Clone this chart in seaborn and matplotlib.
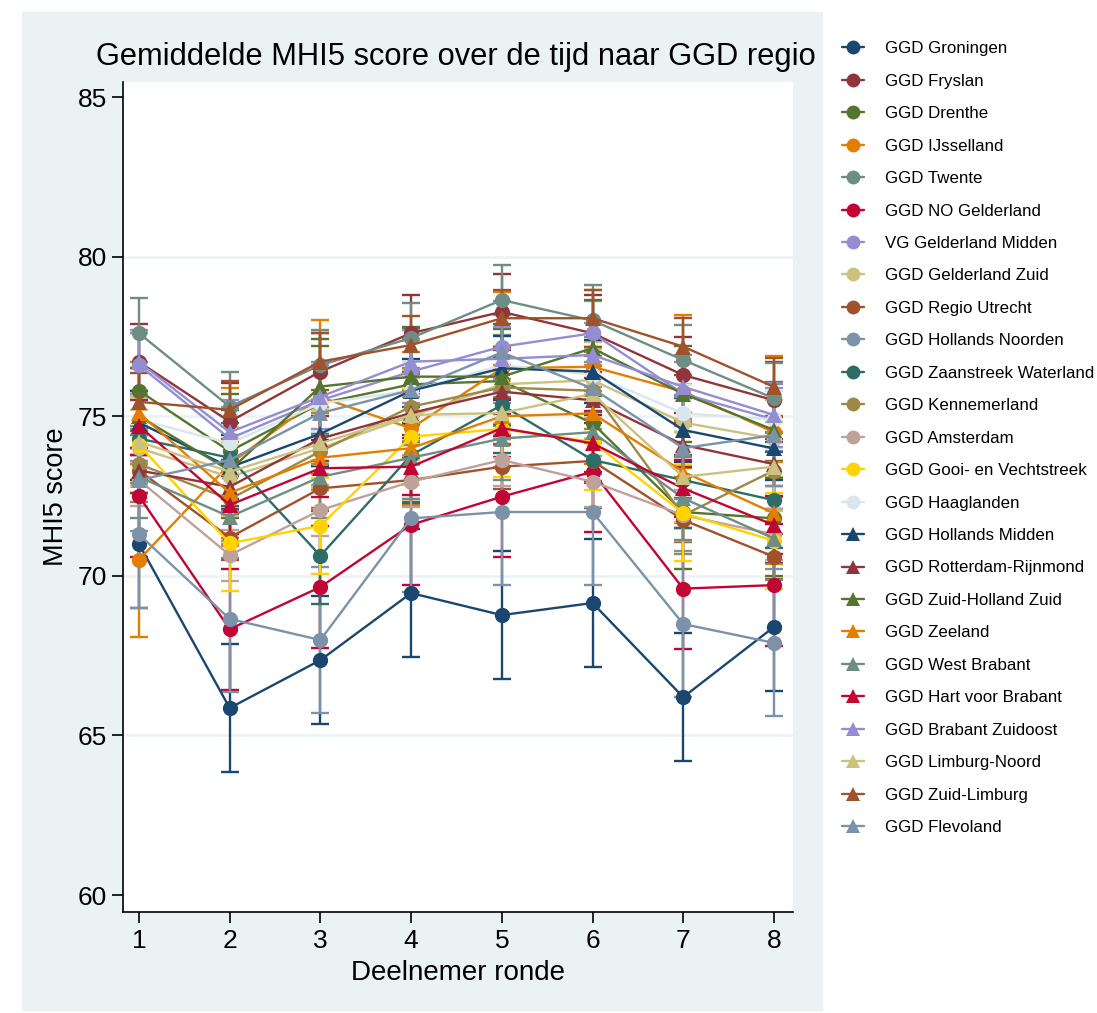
import pandas as pd
import seaborn as sns
import matplotlib.pyplot as plt
from matplotlib.patches import Rectangle

### DATA ###
regios = ["GGD Groningen", "GGD Fryslan", "GGD Drenthe", "GGD IJsselland", "GGD Twente",
          "GGD NO Gelderland", "VG Gelderland Midden", "GGD Gelderland Zuid", "GGD Regio Utrecht",
          "GGD Hollands Noorden", "GGD Zaanstreek Waterland", "GGD Kennemerland", "GGD Amsterdam",
          "GGD Gooi- en Vechtstreek", "GGD Haaglanden", "GGD Hollands Midden",
          "GGD Rotterdam-Rijnmond", "GGD Zuid-Holland Zuid", "GGD Zeeland", "GGD West Brabant",
          "GGD Hart voor Brabant", "GGD Brabant Zuidoost", "GGD Limburg-Noord", "GGD Zuid-Limburg",
          "GGD Flevoland"]

rondes = [1, 2, 3, 4, 5, 6, 7, 8]

# mean MHI5 per region, one list per round (same order as regios)
ronde_1 = [71.0, 76.7, 75.8, 70.5, 77.6, 72.5, 76.6, 74.0, 73.3, 71.3, 74.3, 73.5, 73.0, 74.1, 74.9,
           74.8, 73.3, 75.0, 75.1, 73.1, 74.7, 76.7, 74.2, 75.45, 73.0]
ronde_2 = [65.86, 74.83, 73.9, 73.5, 75.3, 68.33, 74.3, 73.1, 71.2, 68.65, 73.7, 72.4, 70.65, 71.02, 74.15,
           73.4, 72.79, 73.3, 72.6, 71.85, 72.22, 74.5, 73.26, 75.2, 73.63]
ronde_3 = [67.36, 76.4, 75.4, 75.6, 76.6, 69.65, 75.5, 74.0, 72.74, 67.99, 70.63, 73.9, 72.06, 71.57, 75.4,
           74.45, 74.3, 75.93, 73.7, 73.1, 73.37, 75.61, 74.15, 76.71, 75.1]
ronde_4 = [69.46, 77.6, 76.0, 74.62, 77.45, 71.6, 76.4, 75.0, 73.0, 71.8, 73.78, 75.3, 72.95, 74.36, 75.8,
           75.8, 75.1, 76.24, 74.0, 73.7, 73.42, 76.71, 75.04, 77.23, 75.82]
ronde_5 = [68.77, 78.27, 76.1, 76.5, 78.64, 72.48, 77.18, 76.0, 73.42, 72.0, 75.35, 75.9, 73.63, 74.6, 76.6,
           76.5, 75.77, 76.24, 75.0, 74.3, 74.63, 76.8, 75.1, 78.07, 77.0]
ronde_6 = [69.15, 77.6, 74.78, 76.55, 78.0, 73.26, 77.6, 76.13, 73.6, 72.0, 73.63, 75.8, 72.95, 74.2, 76.3,
           76.4, 75.5, 77.13, 75.09, 74.5, 74.15, 76.92, 75.7, 78.07, 75.87]
ronde_7 = [66.2, 76.29, 72.0, 75.77, 76.76, 69.6, 75.7, 74.8, 71.75, 68.49, 73.0, 71.9, 71.9, 71.96, 75.09,
           74.57, 74.1, 75.7, 73.26, 72.43, 72.74, 75.92, 73.1, 77.18, 74.0]
ronde_8 = [68.4, 75.5, 71.8, 74.5, 75.56, 69.71, 74.9, 74.3, 70.6, 67.9, 72.37, 73.3, 71.3, 71.1, 74.9,
           73.99, 73.5, 74.57, 71.96, 71.17, 71.59, 75.04, 73.42, 75.92, 74.41]

# half width of the 95% CI per region
ci_half = [2.0, 1.2, 1.8, 2.4, 1.1, 1.9, 1.0, 1.2, 0.7, 2.3, 1.5, 1.2, 0.8, 1.5, 0.9,
           1.0, 0.7, 1.5, 1.6, 1.3, 0.9, 1.0, 1.4, 0.9, 1.6]

# stata s2color palette
kleuren = ["#1a476f", "#90353b", "#55752f", "#e37e00", "#6e8e84", "#c10534", "#938dd2", "#cac27e",
           "#a0522d", "#7b92a8", "#2d6d66", "#9c8847", "#bfa19c", "#ffd200", "#d9e6eb",
           "#1a476f", "#90353b", "#55752f", "#e37e00", "#6e8e84", "#c10534", "#938dd2", "#cac27e",
           "#a0522d", "#7b92a8"]
markers = ["o"] * 15 + ["^"] * 10

### BUILD LONG TABLE ###
per_ronde = [ronde_1, ronde_2, ronde_3, ronde_4, ronde_5, ronde_6, ronde_7, ronde_8]
rows = []
for r, vals in zip(rondes, per_ronde):
    for i, regio in enumerate(regios):
        rows.append({"ronde": r, "regio": regio, "mhi5": vals[i], "ci": ci_half[i]})
df = pd.DataFrame(rows)

### PLOT ###
sns.set_style("white")
plt.rcParams["font.family"] = ["Liberation Sans", "DejaVu Sans"]
plt.rcParams["text.color"] = "black"
plt.rcParams["axes.labelcolor"] = "black"
plt.rcParams["xtick.color"] = "black"
plt.rcParams["ytick.color"] = "black"

W, H = 1097, 1013
fig = plt.figure(figsize=(W / 100, H / 100), dpi=100)
fig.patches.append(Rectangle((22 / W, 1 - 1010 / H), 800 / W, 998 / H,
                             transform=fig.transFigure, color="#eaf2f3", zorder=-10))

ax = fig.add_axes([123 / W, 1 - 912 / H, (793 - 123) / W, (912 - 82) / H])
ax.set_facecolor("white")

# confidence intervals first, so the lines sit on top
for i, regio in enumerate(regios):
    sub = df[df["regio"] == regio]
    ax.errorbar(sub["ronde"], sub["mhi5"], yerr=sub["ci"], fmt="none", ecolor=kleuren[i],
                elinewidth=1.7, capsize=6.5, capthick=1.7, zorder=2)

sns.lineplot(data=df, x="ronde", y="mhi5", hue="regio", style="regio", hue_order=regios,
             style_order=regios, palette=kleuren, markers=markers, dashes=False,
             markersize=11, markeredgewidth=0, linewidth=1.7, ax=ax, zorder=3)

ax.set_xlim(0.824, 8.21)
ax.set_ylim(59.47, 85.47)
ax.set_xticks(rondes)
ax.set_yticks([60, 65, 70, 75, 80, 85])
for g in [65, 70, 75, 80]:
    ax.axhline(g, color="#eaf2f3", linewidth=1.8, zorder=0)
ax.tick_params(axis="both", which="major", labelsize=19, length=8, width=1.2,
               direction="out", left=True, bottom=True)
ax.tick_params(axis="x", pad=4)
for side in ["top", "right"]:
    ax.spines[side].set_visible(False)
for side in ["left", "bottom"]:
    ax.spines[side].set_color("black")
    ax.spines[side].set_linewidth(1.2)

ax.set_xlabel("Deelnemer ronde", fontsize=20, labelpad=5)
ax.set_ylabel("MHI5 score", fontsize=19.5, labelpad=6)
fig.text(456 / W, 1 - 57 / H, "Gemiddelde MHI5 score over de tijd naar GGD regio",
         ha="center", va="center", fontsize=22.2)

handles, labels = ax.get_legend_handles_labels()
ax.get_legend().remove()
for h in handles:
    h.set_markersize(10)
fig.legend(handles, labels, loc="upper left", bbox_to_anchor=(827 / W, 1 - 26 / H),
           frameon=False, fontsize=12.2, handlelength=1.3, handletextpad=1.2,
           labelspacing=1.03)

plt.savefig("out.png", dpi=100, facecolor="white")
plt.close()
